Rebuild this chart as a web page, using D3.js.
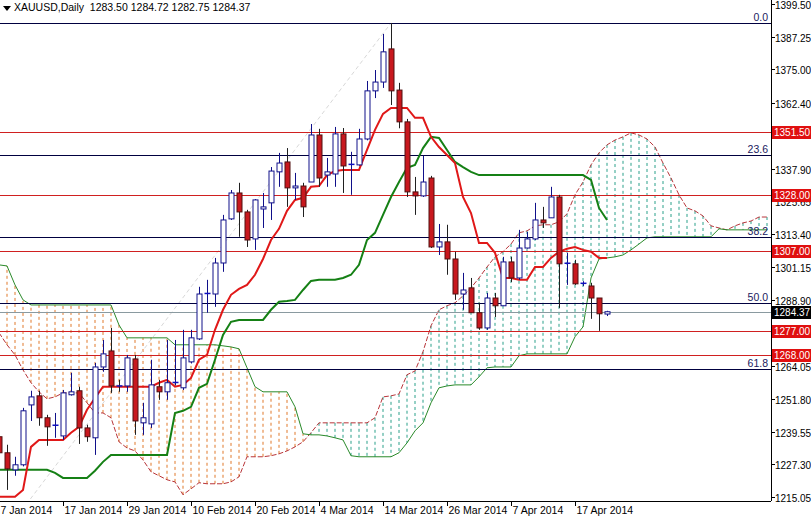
<!DOCTYPE html>
<html><head><meta charset="utf-8">
<script src="https://cdn.jsdelivr.net/npm/d3@7"></script>
<style>body{margin:0;background:#fff;}svg{display:block;font-family:"Liberation Sans",Arial,sans-serif;}</style>
</head><body>
<svg id="c" width="811" height="516"></svg>
<script>
// OHLC, index 0 = 7 Jan 2014
const opens =  [1237.6,1231.6,1225.2,1227.1,1249.5,1252.9,1244.7,1241.7,1237.9,1253.3,1254.8,1240.9,1237.2,1263.7,1269.7,1256.6,1256.6,1266.7,1242.8,1242.4,1256.3,1254.4,1257.6,1255.9,1265.6,1274.2,1291.0,1291.0,1302.6,1319.1,1328.8,1321.7,1311.6,1322.8,1325.1,1336.7,1340.4,1330.7,1331.4,1332.9,1350.5,1335.5,1335.9,1350.9,1339.3,1339.3,1349.0,1367.0,1370.3,1382.7,1367.3,1355.4,1329.2,1327.7,1334.4,1308.6,1310.5,1304.1,1291.0,1293.3,1284.0,1278.3,1289.5,1286.6,1303.0,1297.0,1308.2,1311.6,1318.7,1319.5,1327.3,1302.3,1302.3,1294.8,1294.0,1289.5,1283.50];
const highs =  [1240.2,1234.6,1230.1,1248.4,1254.8,1254.8,1245.8,1246.5,1255.1,1261.5,1256.3,1242.1,1265.2,1273.8,1278.3,1258.9,1268.2,1268.2,1250.3,1266.4,1258.9,1273.8,1273.8,1277.6,1277.6,1293.7,1296.3,1304.5,1320.6,1329.9,1332.6,1322.5,1326.5,1328.8,1338.5,1343.8,1345.6,1336.3,1332.6,1354.6,1352.8,1341.9,1353.5,1353.1,1344.2,1352.8,1370.7,1374.8,1388.3,1392.4,1370.0,1356.5,1334.8,1342.7,1335.2,1317.2,1316.9,1306.8,1298.9,1297.0,1287.7,1291.4,1291.4,1304.9,1304.9,1315.0,1314.2,1325.1,1323.6,1331.1,1328.1,1306.4,1303.8,1295.8,1295.2,1289.5,1284.72];
const lows =   [1229.0,1217.7,1223.0,1226.5,1243.5,1241.7,1234.2,1237.2,1236.4,1253.0,1234.9,1235.7,1230.8,1261.9,1254.0,1254.4,1254.4,1238.3,1238.3,1240.9,1251.4,1251.4,1256.8,1255.1,1265.0,1273.8,1284.0,1286.2,1299.3,1318.7,1312.4,1308.6,1307.5,1315.7,1318.7,1331.1,1323.6,1326.2,1319.8,1332.9,1331.1,1331.1,1331.1,1328.8,1328.1,1339.0,1348.5,1364.3,1368.1,1361.7,1353.0,1327.3,1320.6,1327.3,1308.2,1305.6,1298.2,1288.8,1285.1,1284.0,1277.6,1277.6,1282.4,1286.6,1295.5,1296.3,1308.0,1311.2,1315.7,1319.5,1285.8,1294.4,1294.4,1294.0,1281.7,1277.2,1282.75];
const closes = [1231.6,1225.6,1227.1,1247.3,1252.5,1244.7,1241.3,1241.9,1254.0,1254.4,1240.9,1237.6,1263.7,1268.6,1256.6,1256.4,1267.1,1243.5,1244.7,1257.0,1254.4,1257.8,1257.9,1267.1,1274.6,1291.0,1291.2,1302.6,1318.7,1328.8,1321.7,1311.2,1326.2,1323.6,1337.0,1340.0,1330.7,1331.4,1323.6,1350.5,1334.4,1336.7,1350.9,1338.9,1339.5,1349.0,1367.0,1370.3,1381.6,1367.0,1355.4,1329.2,1327.7,1332.9,1308.6,1310.5,1304.1,1291.0,1292.5,1284.0,1278.3,1289.5,1286.6,1303.0,1297.0,1308.2,1311.6,1318.7,1317.6,1327.3,1302.3,1302.5,1294.8,1295.0,1289.5,1283.6,1284.37];
const tenkan = [1215.1,1215.1,1215.1,1217.7,1233.8,1236.4,1236.4,1236.4,1236.4,1239.1,1241.3,1247.7,1252.1,1256.3,1256.3,1256.3,1256.3,1256.3,1256.3,1256.3,1257.8,1258.9,1256.3,1257.0,1259.6,1266.4,1268.2,1277.6,1285.1,1290.7,1292.9,1294.4,1298.2,1304.1,1311.2,1315.4,1322.1,1326.2,1327.0,1331.1,1331.4,1335.5,1337.0,1337.4,1337.4,1337.4,1344.9,1352.4,1358.4,1360.6,1360.6,1360.6,1356.9,1356.9,1349.8,1346.0,1343.0,1340.0,1327.3,1321.3,1310.1,1310.1,1306.4,1297.0,1297.0,1296.3,1296.3,1301.1,1301.1,1304.5,1306.8,1307.9,1308.6,1307.5,1306.8,1304.5,1304.5];
const kijun = [1225.2,1225.2,1225.2,1225.2,1225.2,1225.2,1225.2,1224.1,1222.2,1222.2,1222.2,1222.2,1224.9,1228.2,1230.8,1230.8,1230.8,1230.8,1230.8,1230.8,1230.8,1230.8,1246.5,1247.3,1248.8,1255.9,1257.4,1266.4,1275.7,1280.6,1281.3,1281.3,1281.3,1281.3,1285.1,1288.1,1288.4,1288.8,1292.5,1295.9,1296.3,1296.3,1296.3,1297.0,1298.2,1301.9,1311.2,1313.9,1320.6,1327.3,1332.9,1338.2,1339.3,1345.6,1349.8,1349.4,1344.9,1340.4,1338.5,1336.7,1335.5,1335.5,1335.5,1335.5,1335.5,1335.5,1335.5,1335.5,1335.5,1335.5,1335.5,1335.5,1335.5,1335.5,1333.7,1323.2,1318.7];
const spanA = [1276.5,1272.0,1268.2,1262.6,1257.8,1254.4,1251.8,1252.5,1254.0,1254.0,1254.0,1250.3,1246.5,1246.5,1244.7,1235.7,1233.4,1232.3,1228.9,1224.5,1223.0,1221.5,1220.7,1215.9,1218.1,1220.4,1220.0,1220.0,1220.0,1220.7,1222.6,1230.1,1230.1,1230.1,1230.5,1231.2,1232.3,1233.8,1235.7,1239.1,1242.8,1242.8,1242.8,1242.8,1242.8,1242.8,1242.8,1244.7,1252.5,1252.9,1253.6,1260.8,1262.2,1269.4,1279.1,1285.1,1286.6,1287.7,1290.3,1293.3,1297.0,1301.1,1304.9,1306.8,1309.7,1313.9,1314.6,1316.5,1316.9,1316.9,1318.0,1321.0,1328.1,1332.9,1339.3,1343.8,1346.8,1348.6,1349.8,1351.3,1350.5,1349.0,1346.0,1340.0,1334.4,1328.1,1323.2,1322.1,1320.2,1316.5,1315.7,1315.0,1316.5,1317.6,1318.3,1319.8,1319.8];
const spanB = [1301.9,1301.5,1294.4,1288.8,1286.9,1286.9,1286.9,1286.9,1286.9,1286.9,1286.9,1286.9,1286.9,1286.9,1286.9,1279.4,1274.6,1274.6,1274.6,1274.6,1274.6,1274.6,1272.0,1272.0,1272.0,1272.0,1272.0,1272.0,1271.6,1271.2,1270.5,1263.4,1256.3,1254.4,1254.4,1254.4,1254.4,1248.8,1238.7,1238.3,1238.3,1237.9,1237.2,1236.4,1230.5,1230.1,1230.1,1230.1,1230.1,1230.1,1231.6,1235.3,1239.8,1242.8,1250.3,1255.9,1256.6,1257.0,1257.0,1257.0,1260.0,1263.4,1263.7,1263.7,1263.7,1267.9,1268.6,1268.6,1268.6,1268.6,1268.6,1268.6,1275.0,1278.7,1297.0,1304.1,1304.5,1304.9,1305.6,1307.5,1309.7,1312.0,1312.4,1312.4,1312.4,1312.4,1312.4,1312.4,1312.4,1312.4,1315.4,1315.0,1315.0,1315.0,1315.0,1315.0,1315.0];
const dateLabels = ["7 Jan 2014","17 Jan 2014","29 Jan 2014","10 Feb 2014","20 Feb 2014","4 Mar 2014","14 Mar 2014","26 Mar 2014","7 Apr 2014","17 Apr 2014"];
const priceTicks = [1399.50,1387.25,1375.00,1362.40,1337.90,1325.65,1313.40,1301.15,1288.90,1264.05,1251.80,1239.55,1227.30,1215.05];
const levels = [1351.50,1328.00,1307.00,1277.00,1268.00];
const fibLevels = [0.0,23.6,38.2,50.0,61.8];
const fibHigh = 1392.4, fibLow = 1183.0;
const lastPrice = 1284.37;
const header = "XAUUSD,Daily  1283.50 1284.72 1282.75 1284.37";

const svg = d3.select("#c");
const W = 771, B = 501;
const y = d3.scaleLinear().domain([1215.05,1399.5]).range([497,4]);
const x = d3.scaleLinear().domain([0,1]).range([-1,7]);
svg.append("defs").append("clipPath").attr("id","cp").append("rect").attr("x",0).attr("y",0).attr("width",W).attr("height",B);
const plot = svg.append("g").attr("clip-path","url(#cp)");
const FS = 10.5;

spanA.forEach((a,i)=>{
  const b = spanB[i];
  plot.append("line").attr("x1",x(i)).attr("x2",x(i)).attr("y1",y(a)).attr("y2",y(b))
    .attr("stroke", b>a ? "#e0782a" : "#2aa08a").attr("stroke-width",1).attr("stroke-dasharray","3,3");
});
const ln = arr => d3.line().x((d,i)=>x(i)).y(d=>y(d))(arr);
plot.append("path").attr("d",ln(spanA)).attr("fill","none").attr("stroke","#b8353a").attr("stroke-width",1).attr("stroke-dasharray","5,2");
plot.append("path").attr("d",ln(spanB)).attr("fill","none").attr("stroke","#2a8a2a").attr("stroke-width",1);

plot.append("line").attr("x1",x(-4)).attr("y1",y(fibLow)).attr("x2",x(49)).attr("y2",y(fibHigh))
  .attr("stroke","#d8d8d8").attr("stroke-dasharray","4,3");

fibLevels.forEach(f=>{
  const v = fibHigh - (fibHigh-fibLow)*f/100;
  const yy = Math.round(y(v))+0.5;
  plot.append("line").attr("x1",0).attr("x2",W).attr("y1",yy).attr("y2",yy).attr("stroke","#000040");
  svg.append("text").attr("x",768).attr("y",yy-3).attr("text-anchor","end").attr("font-size",FS).attr("fill","#202060").text(f.toFixed(1));
});
levels.forEach(v=>{
  const yy = Math.round(y(v))+0.5;
  plot.append("line").attr("x1",0).attr("x2",W).attr("y1",yy).attr("y2",yy).attr("stroke","#d02020");
});
plot.append("line").attr("x1",0).attr("x2",W).attr("y1",Math.round(y(lastPrice))+0.5).attr("y2",Math.round(y(lastPrice))+0.5).attr("stroke","#8a9aa0");

plot.append("path").attr("d",ln(kijun)).attr("fill","none").attr("stroke","#158015").attr("stroke-width",2);
plot.append("path").attr("d",ln(tenkan)).attr("fill","none").attr("stroke","#e01818").attr("stroke-width",2);

opens.forEach((o,i)=>{
  const c = closes[i], h = highs[i], l = lows[i], cx = Math.round(x(i))+0.5;
  const bull = c >= o;
  const col = bull ? "#10108a" : "#202020";
  plot.append("line").attr("x1",cx).attr("x2",cx).attr("y1",y(h)).attr("y2",y(l)).attr("stroke",col);
  const top = y(Math.max(o,c)), bot = y(Math.min(o,c));
  if (bot-top < 1.5) {
    plot.append("line").attr("x1",cx-3).attr("x2",cx+3).attr("y1",top).attr("y2",top).attr("stroke","#1010c0").attr("stroke-width",1.5);
  } else {
    plot.append("rect").attr("x",cx-2.5).attr("y",top).attr("width",5).attr("height",bot-top)
      .attr("fill", bull ? "#fff" : "#c8181e").attr("stroke", bull ? "#10108a" : "#501010").attr("stroke-width",1);
  }
});

svg.append("line").attr("x1",W+0.5).attr("x2",W+0.5).attr("y1",0).attr("y2",B).attr("stroke","#000");
svg.append("line").attr("x1",0).attr("x2",W).attr("y1",B+0.5).attr("y2",B+0.5).attr("stroke","#000");
const AFS = 10;
priceTicks.forEach(v=>{
  const yy = Math.round(y(v))+0.5;
  svg.append("line").attr("x1",W).attr("x2",W+4).attr("y1",yy).attr("y2",yy).attr("stroke","#000");
  svg.append("text").attr("x",775).attr("y",yy+4).attr("font-size",AFS).attr("fill","#000").text(v.toFixed(2));
});
function box(v, fill){
  const yy = Math.round(y(v));
  svg.append("rect").attr("x",W+1).attr("y",yy-6).attr("width",39).attr("height",13).attr("fill",fill);
  svg.append("text").attr("x",774).attr("y",yy+4).attr("font-size",AFS).attr("fill","#fff").text(v.toFixed(2));
}
levels.forEach(v=>box(v,"#e01010"));
box(lastPrice,"#000");
dateLabels.forEach((t,k)=>{
  const xx = Math.round(x(k*8))+0.5;
  svg.append("line").attr("x1",xx).attr("x2",xx).attr("y1",B).attr("y2",B+5).attr("stroke","#000");
  svg.append("text").attr("x",xx+1).attr("y",514).attr("font-size",FS).attr("fill","#000").text(t);
});
svg.append("path").attr("d","M3,6 L11,6 L7,11 Z").attr("fill","#000");
svg.append("text").attr("x",14).attr("y",11).attr("font-size",FS).attr("fill","#000").style("white-space","pre").text(header);
</script>
</body></html>
